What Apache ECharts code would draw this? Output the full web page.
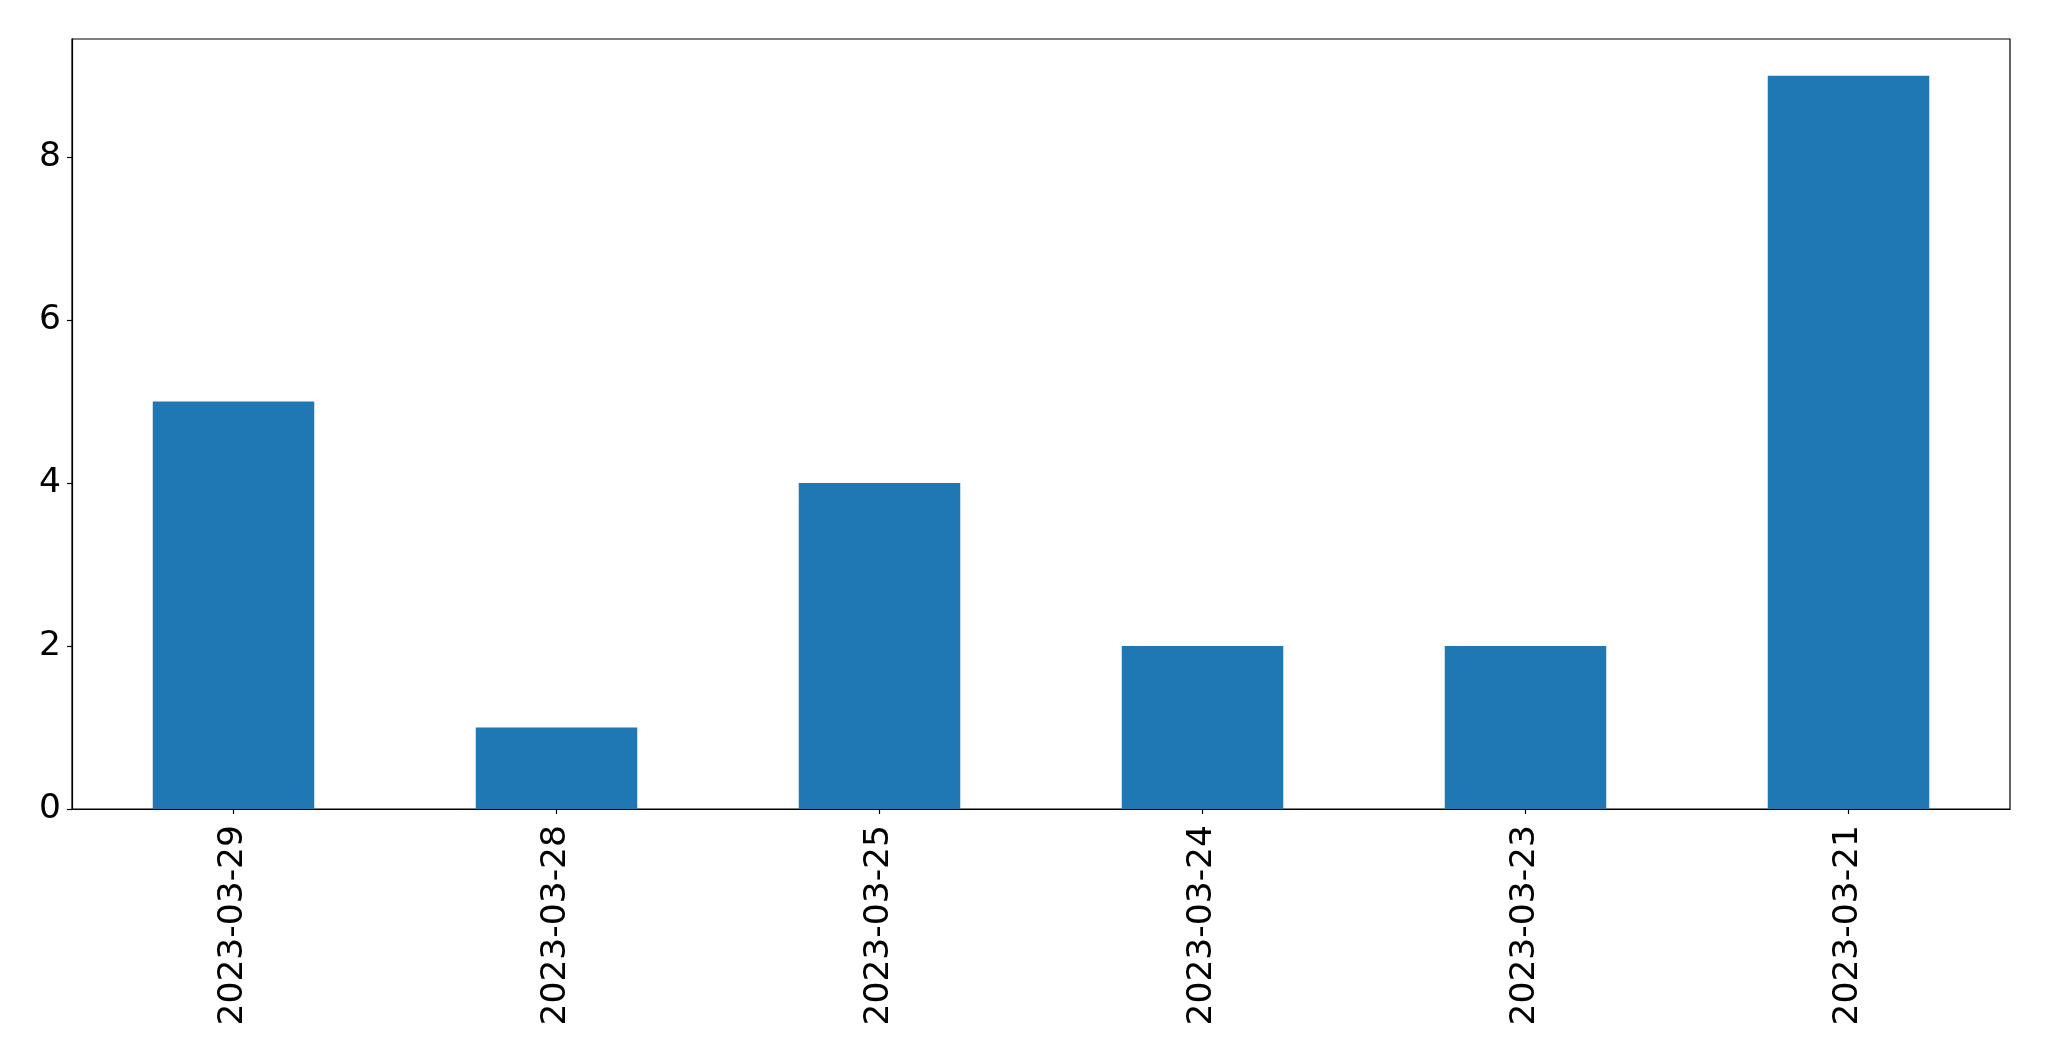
<!DOCTYPE html>
<html>
<head>
<meta charset="utf-8">
<script src="https://cdn.jsdelivr.net/npm/echarts@6/dist/echarts.min.js"></script>
<style>
html,body{margin:0;padding:0;background:#fff;}
#c{width:2049px;height:1061px;}
</style>
</head>
<body>
<div id="c"></div>
<script>
const categories = ["2023-03-29","2023-03-28","2023-03-25","2023-03-24","2023-03-23","2023-03-21"];
const values = [5, 1, 4, 2, 2, 9];
const yTicks = [0, 2, 4, 6, 8];

const chart = echarts.init(document.getElementById('c'), null, {renderer: 'canvas'});
const font = 'DejaVu Sans';
chart.setOption({
  animation: false,
  backgroundColor: '#ffffff',
  grid: {left: 72, right: 39, top: 39, bottom: 252, show: true, borderColor: '#000', borderWidth: 1.2, containLabel: false},
  xAxis: {
    type: 'category',
    data: categories,
    axisLine: {show: true, lineStyle: {color: '#000', width: 1.2}},
    axisTick: {show: true, alignWithLabel: true, length: 5, lineStyle: {color: '#000', width: 1.2}},
    axisLabel: {rotate: 90, fontFamily: font, fontSize: 34.5, color: '#000', margin: 16, interval: 0}
  },
  yAxis: {
    type: 'value',
    min: 0,
    max: 9.45,
    splitLine: {show: false},
    axisLine: {show: true, lineStyle: {color: '#000', width: 1.2}},
    axisTick: {show: true, length: 5, customValues: yTicks, lineStyle: {color: '#000', width: 1.2}},
    axisLabel: {fontFamily: font, fontSize: 34.5, color: '#000', margin: 11, customValues: yTicks}
  },
  series: [{
    type: 'bar',
    data: values,
    barWidth: '50%',
    itemStyle: {color: '#1f77b4'}
  }]
});
</script>
</body>
</html>
